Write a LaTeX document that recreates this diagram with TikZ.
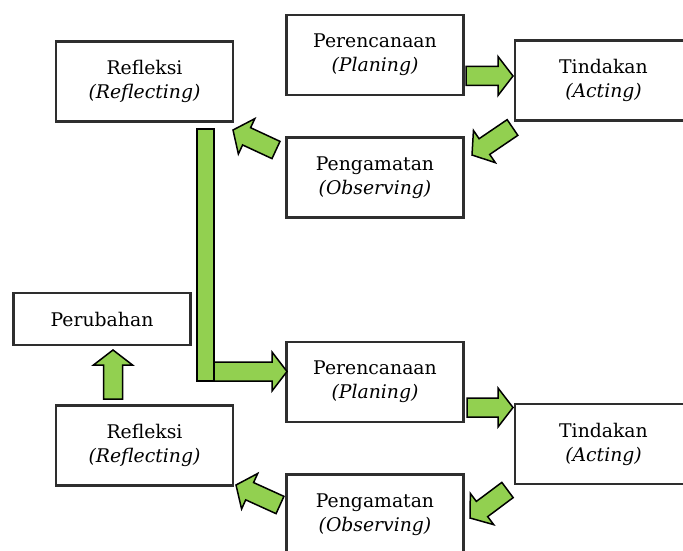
\documentclass[tikz,border=0pt]{standalone}
\usepackage{fontspec}
\setmainfont{DejaVu Serif}
\usetikzlibrary{calc}
\definecolor{arrowgreen}{HTML}{92D050}
\definecolor{boxline}{HTML}{2E2E2E}

% block arrow from tail #1 to tip #2
\newcommand{\blockarrow}[2]{%
  \coordinate (hb) at ($(#2)!15pt!(#1)$);
  \filldraw[greenarrow]
    ($(#1)!9.5pt!90:(#2)$) -- ($(hb)!9.5pt!90:(#2)$) -- ($(hb)!19.5pt!90:(#2)$)
    -- (#2) -- ($(hb)!19.5pt!-90:(#2)$) -- ($(hb)!9.5pt!-90:(#2)$)
    -- ($(#1)!9.5pt!-90:(#2)$) -- cycle;
}

\begin{document}
\begin{tikzpicture}[x=1pt, y=-1pt,
    box/.style={draw=boxline, line width=2.2pt, minimum width=177pt, minimum height=80pt,
      align=center, font=\fontsize{18.8}{24}\selectfont},
    greenarrow/.style={fill=arrowgreen, draw=black, line width=1.5pt, line join=miter}]
    \clip (0,0) rectangle (683,551);

    % first cycle
    \node[box] (ref1) at (144.5,81.5) {Refleksi\\\textit{(Reflecting)}};
    \node[box] (ren1) at (375,55) {Perencanaan\\\textit{(Planing)}};
    \node[box] (tin1) at (603.5,80.5) {Tindakan\\\textit{(Acting)}};
    \node[box] (pen1) at (375,177.5) {Pengamatan\\\textit{(Observing)}};

    % second cycle
    \node[box, minimum height=52pt] (ubah) at (102,319) {Perubahan};
    \node[box] (ren2) at (375,382) {Perencanaan\\\textit{(Planing)}};
    \node[box] (tin2) at (603.5,444) {Tindakan\\\textit{(Acting)}};
    \node[box] (ref2) at (144.5,445.5) {Refleksi\\\textit{(Reflecting)}};
    \node[box] (pen2) at (375,514.5) {Pengamatan\\\textit{(Observing)}};

    \coordinate (a1s) at (466,76);    \coordinate (a1e) at (513,76);
    \coordinate (a2s) at (512.5,127.5); \coordinate (a2e) at (472,155);
    \coordinate (a3s) at (276,150);   \coordinate (a3e) at (233,130);
    \coordinate (a4s) at (214,371.5); \coordinate (a4e) at (287,371.5);
    \coordinate (a5s) at (467,407.5); \coordinate (a5e) at (513,407.5);
    \coordinate (a6s) at (507.5,490); \coordinate (a6e) at (470,518);
    \coordinate (a7s) at (280,505);   \coordinate (a7e) at (236,485);
    \coordinate (a8s) at (113,399);   \coordinate (a8e) at (113,350);

    \blockarrow{a1s}{a1e}
    \blockarrow{a2s}{a2e}
    \blockarrow{a3s}{a3e}
    \filldraw[greenarrow] (197,129) rectangle (214,381);
    \blockarrow{a4s}{a4e}
    \blockarrow{a5s}{a5e}
    \blockarrow{a6s}{a6e}
    \blockarrow{a7s}{a7e}
    \blockarrow{a8s}{a8e}
\end{tikzpicture}
\end{document}
